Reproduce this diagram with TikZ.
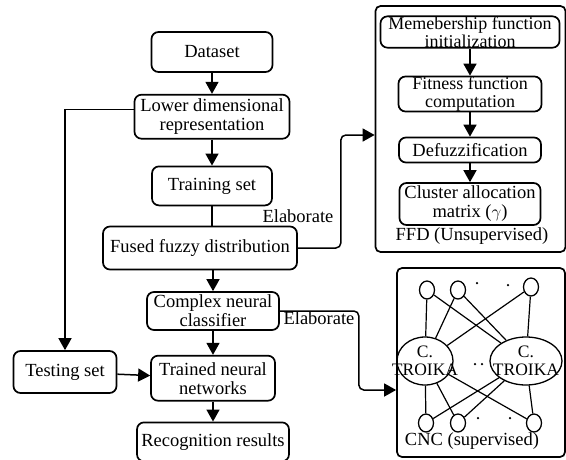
\documentclass[tikz,border=0pt]{standalone}
\usepackage{fontspec}
\setmainfont{Liberation Serif}
\usetikzlibrary{arrows.meta,positioning,shapes.geometric}

\begin{document}
\begin{tikzpicture}[x=1pt,y=-1pt,line width=1.5pt,
  >={Triangle[length=12pt,width=13pt]},
  font=\fontsize{18.5}{19}\selectfont,
  box/.style={draw,line width=1.7pt,rounded corners=7pt,align=center,inner sep=1pt},
  tight/.style={font=\fontsize{18}{18.5}\selectfont,inner sep=0pt},
  frame/.style={draw,line width=1.7pt,rounded corners=5pt,inner sep=0pt},
  lbl/.style={inner sep=0pt},
  unit/.style={draw,ellipse,line width=1.3pt,inner sep=0pt,minimum width=15pt,minimum height=18pt},
  troika/.style={draw,ellipse,line width=1.3pt,inner sep=0pt},
  troitxt/.style={inner sep=0pt,align=center,font=\fontsize{17.5}{18}\selectfont},
  dotn/.style={circle,fill,inner sep=0pt,minimum size=2.5pt}]
\useasboundingbox (0,0) rectangle (566,459);
% main flow
\node[box,minimum width=121pt,minimum height=40pt] (data) at (212,52) {Dataset};
\node[box,minimum width=155pt,minimum height=44pt,below=21pt of data] (low)
  {Lower dimensional\\representation};
\node[box,minimum width=120pt,minimum height=39pt,below=26pt of low] (train) {Training set};
\node[box,minimum width=194pt,minimum height=43pt] (fused) at (200,248) {Fused fuzzy distribution};
\node[box,minimum width=132pt,minimum height=38pt] (cls) at (213,311)
  {Complex neural\\classifier};
\node[box,minimum width=124pt,minimum height=45pt,below=24pt of cls] (trained)
  {Trained neural\\networks};
\node[box,minimum width=152pt,minimum height=39pt,below=20pt of trained] (recog)
  {Recognition results};
\node[box,minimum width=103pt,minimum height=42pt] (test) at (65,372) {Testing set};
\node[lbl] (elab1) at (298,216) {Elaborate};
\node[lbl] (elab2) at (319,318) {Elaborate};
% FFD (unsupervised)
\node[frame,minimum width=190pt,minimum height=246pt] (ffd) at (470.5,129) {};
\node[box,tight,minimum width=179pt,minimum height=31pt] (mem) at (470,32)
  {Memebership function\\initialization};
\node[box,tight,minimum width=143pt,minimum height=29pt] (fit) at (470,94)
  {Fitness function\\computation};
\node[box,minimum width=142pt,minimum height=25pt] (defz) at (470,150) {Defuzzification};
\node[box,minimum width=141pt,minimum height=42pt] (clu) at (470,204)
  {Cluster allocation\\matrix ($\gamma$)};
\node[lbl] (ffdlbl) at (472,236) {FFD (Unsupervised)};
% CNC (supervised)
\node[frame,minimum width=168pt,minimum height=189pt] (cnc) at (481,362.5) {};
\foreach \n/\x/\y in {t1/427/290,t2/458/290,t3/531/287,b1/426/423,b2/458/423,b3/534/423}
  \node[unit] (\n) at (\x,\y) {};
\node[troika,minimum width=56pt,minimum height=48pt,
  label={[troitxt]center:{C.\\TROIKA}}] (c1) at (425,361) {};
\node[troika,minimum width=72pt,minimum height=48pt,
  label={[troitxt]center:{C.\\TROIKA}}] (c2) at (526,361) {};
\foreach \n/\x/\y in {d1/477/283,d2/508/285,d3/475/364,d4/482/364,d5/478/418,d6/510/418}
  \node[dotn] (\n) at (\x,\y) {};
\node[lbl] (cnclbl) at (472,441) {CNC (supervised)};
% connectors
\draw[->] (data) -- (low);
\draw[->] (low) -- (train);
\draw (train) -- (train|-fused.north);
\draw[->] (fused.south-|cls) -- (cls);
\draw[->] (cls) -- (trained);
\draw[->] (trained) -- (recog);
\draw[->] (test) -- (trained);
\draw[->] ([yshift=7pt]low.west) -| (test);
\draw[->,rounded corners=5pt] (fused.east) -- ++(43,0) |- ([yshift=-6pt]ffd.west);
\draw[->,rounded corners=5pt] (cls.east) -- ++(79,0) |- ([yshift=-27.5pt]cnc.west);
\draw[->] (mem) -- (fit);
\draw[->] (fit) -- (defz);
\draw[->] (defz) -- (clu);
\foreach \u in {t1,t2,t3,b1,b2,b3}
  \foreach \c in {c1,c2}
    \draw[line width=1.2pt] (\u) -- (\c);
\end{tikzpicture}
\end{document}
